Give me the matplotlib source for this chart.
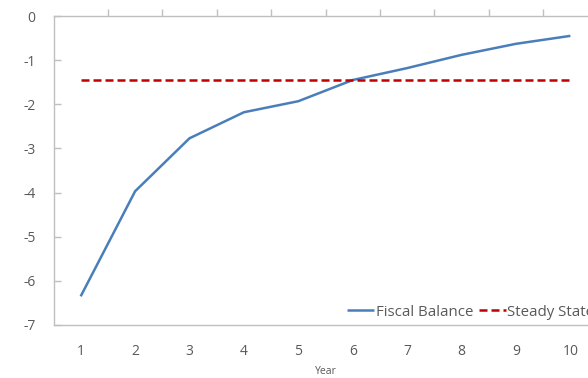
import matplotlib
matplotlib.use("Agg")
import matplotlib.pyplot as plt

years = [1, 2, 3, 4, 5, 6, 7, 8, 9, 10]
fiscal_balance = [-6.35, -3.97, -2.77, -2.18, -1.93, -1.45, -1.18, -0.88, -0.63, -0.45]
steady_state = [-1.45] * len(years)

W, H = 588, 378
plt.rcParams['font.family'] = ['Open Sans', 'DejaVu Sans']
fig = plt.figure(figsize=(W / 100, H / 100), dpi=100)

# plot area in pixels: left 53.5, right ~597 (runs past the edge), top 16, bottom 325
x0, x1, y0, y1 = 53.5, 597.6, 16, 325
ax = fig.add_axes([x0 / W, 1 - y1 / H, (x1 - x0) / W, (y1 - y0) / H])

grey = "#bfbfbf"
txt = "#595959"

ax.plot(years, fiscal_balance, color="#4a7ebb", lw=1.8, label="Fiscal Balance",
        solid_capstyle="butt")
ax.plot(years, steady_state, color="#c00000", lw=1.8, ls=(0, (3.2, 1.6)),
        label="Steady State")

ax.set_xlim(0.5, 10.5)
ax.set_ylim(-7, 0)
ax.set_yticks(range(-7, 1))
ax.set_yticklabels([str(v) for v in range(-7, 1)])

for s in ["left", "top", "bottom"]:
    ax.spines[s].set_color(grey)
    ax.spines[s].set_linewidth(1.0)
ax.spines["right"].set_visible(False)

ax.tick_params(axis="y", direction="in", length=5, color=grey, width=1.0,
               labelsize=10, labelcolor=txt, pad=13)
# category labels along the bottom, boundary ticks on the zero line at the top
ax.set_xticks(years)
ax.set_xticklabels([str(y) for y in years])
ax.tick_params(axis="x", length=0, labelsize=10, labelcolor=txt, pad=14)
top = ax.secondary_xaxis("top")
top.set_xticks([y + 0.5 for y in years])
top.set_xticklabels([])
top.tick_params(direction="out", length=5, color=grey, width=1.0)
top.spines["top"].set_visible(False)

fig.text(326 / W, 1 - 372 / H, "Year", ha="center", va="center",
         fontsize=7.5, color=txt)
fig.text(2 / W, 1 + 5 / H, "(Percent of GDP)", ha="left", va="center",
         fontsize=9.5, color="#5b9bd5")

ax.legend(loc="center left", bbox_to_anchor=((347 - x0) / (x1 - x0), (y1 - 312) / (y1 - y0)),
          ncol=2, frameon=False, fontsize=10.8, labelcolor=txt, handlelength=1.8,
          handletextpad=0.1, columnspacing=0.4, borderpad=0, borderaxespad=0)

fig.savefig("out.png", dpi=100)
